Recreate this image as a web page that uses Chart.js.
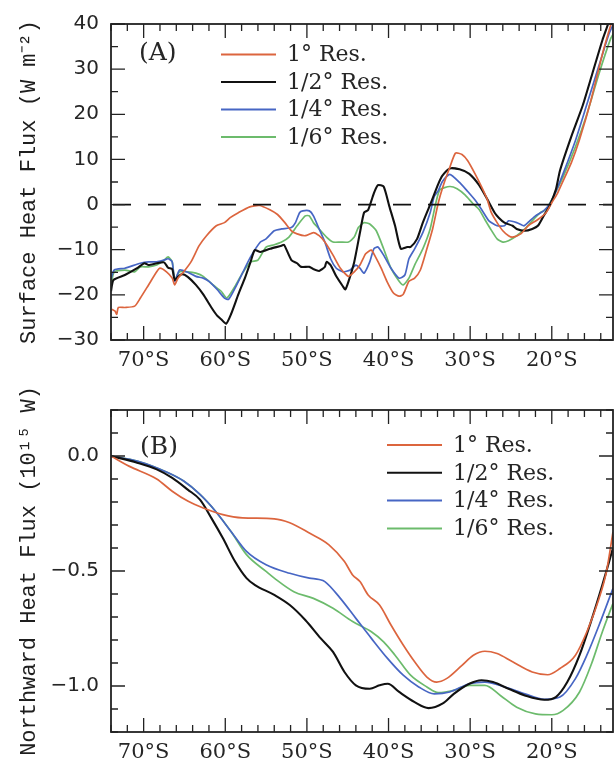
<!DOCTYPE html>
<html><head><meta charset="utf-8">
<script src="https://cdn.jsdelivr.net/npm/chart.js@4.4.1/dist/chart.umd.min.js"></script>
<style>
html,body{margin:0;padding:0;background:#fff;}
#wrap{position:relative;width:614px;height:763px;overflow:hidden;background:#fff;}
canvas{position:absolute;left:0;}
#cA{top:0;} #cB{top:380px;}
</style></head><body>
<div id="wrap"><canvas id="cA" width="614" height="380"></canvas><canvas id="cB" width="614" height="383"></canvas></div>
<script>
// ---------- data ----------
const seriesLabels = ['1° Res.', '1/2° Res.', '1/4° Res.', '1/6° Res.'];
const panelLabels = ['(A)', '(B)'];
const xTickLats = [-70, -60, -50, -40, -30, -20];
const yTicksA = [-30, -20, -10, 0, 10, 20, 30, 40];
const yTicksB = [-1.0, -0.5, 0.0];

// Panel A: surface heat flux (W m-2)
const lat1A = [-73.9,-73.5,-73.3,-73.1,-72.3,-71.1,-70.4,-69.4,-68.4,-68.0,-67.2,-66.5,-66.2,-65.8,-65.1,-64.2,-63.2,-62.3,-61.1,-60.1,-59.4,-58.4,-57.0,-55.8,-54.6,-53.6,-52.7,-51.9,-51.2,-50.2,-49.2,-48.5,-47.8,-46.8,-45.9,-44.9,-44.2,-43.5,-42.8,-42.1,-41.6,-40.9,-40.2,-39.4,-38.7,-38.2,-37.5,-36.8,-36.1,-35.3,-34.6,-33.9,-33.2,-32.5,-31.8,-31.0,-30.3,-29.4,-28.6,-27.9,-27.4,-26.7,-26.0,-25.3,-24.8,-23.8,-22.9,-21.7,-20.7,-20.0,-19.3,-19.0,-17.6,-16.6,-15.2,-13.8,-12.8,-12.5];
const flux1A = [-23.2,-23.6,-24.3,-22.8,-22.8,-22.5,-20.7,-17.8,-14.9,-14.1,-14.9,-16.3,-17.8,-16.3,-14.9,-12.7,-9.1,-6.9,-4.7,-4.0,-2.9,-1.8,-0.5,-0.2,-1.1,-2.2,-4.0,-5.8,-6.5,-6.9,-6.2,-6.9,-8.3,-11.2,-14.1,-15.9,-14.9,-13.4,-10.9,-10.1,-11.6,-14.1,-17.0,-19.6,-20.3,-19.9,-17.0,-16.3,-14.5,-9.8,-5.4,0.4,4.7,8.2,11.4,11.1,9.7,6.8,3.9,1.1,-1.8,-4.0,-5.8,-6.9,-7.2,-6.5,-4.7,-3.3,-1.8,0.4,2.5,3.7,9.3,14.4,23.1,33.3,39.6,41.0];

const lat2A = [-74.0,-73.7,-72.3,-70.8,-69.9,-69.4,-68.4,-67.5,-67.0,-66.5,-66.2,-65.8,-65.3,-64.6,-63.6,-62.7,-61.7,-61.0,-60.5,-59.9,-59.3,-58.4,-57.6,-56.9,-56.4,-55.7,-54.5,-53.1,-52.8,-51.9,-51.2,-50.7,-49.7,-49.2,-48.5,-47.8,-47.6,-47.1,-46.4,-45.6,-45.3,-44.9,-44.2,-43.5,-43.0,-42.5,-41.8,-41.3,-40.6,-39.9,-39.2,-38.5,-37.7,-37.3,-36.5,-35.8,-34.9,-33.9,-33.4,-32.5,-31.3,-30.1,-28.9,-28.0,-27.0,-26.5,-25.8,-24.8,-24.3,-23.3,-22.4,-21.7,-21.0,-20.3,-19.5,-19.0,-17.6,-16.2,-15.0,-13.8,-13.1,-12.5];
const flux2A = [-19.2,-16.7,-15.6,-14.1,-13.0,-13.4,-13.0,-12.8,-14.0,-14.3,-16.7,-16.0,-15.4,-16.0,-17.8,-19.9,-22.8,-24.6,-25.4,-26.4,-24.3,-19.9,-16.3,-12.7,-10.1,-10.5,-9.8,-9.1,-8.9,-12.3,-13.0,-13.8,-13.8,-14.3,-14.7,-13.8,-12.7,-13.4,-15.9,-18.1,-18.8,-17.0,-12.7,-6.2,-1.8,-1.2,2.5,4.3,4.0,-0.4,-4.7,-9.8,-9.4,-9.4,-7.6,-4.0,0.0,4.6,6.4,8.0,7.8,6.8,4.3,1.5,-1.8,-2.9,-4.0,-4.7,-5.4,-5.8,-5.4,-4.7,-2.5,-0.4,3.3,7.5,15.1,22.0,29.2,36.4,40.0,43.5];

const lat4A = [-74.0,-73.6,-72.3,-70.4,-69.4,-68.4,-67.5,-67.0,-66.5,-66.2,-65.6,-64.6,-63.6,-62.7,-62.0,-61.0,-60.1,-59.6,-58.8,-57.9,-56.9,-55.7,-55.0,-54.0,-53.1,-51.9,-51.4,-50.9,-50.5,-49.7,-49.2,-48.5,-47.8,-47.1,-46.4,-45.6,-44.7,-44.0,-43.5,-43.0,-42.3,-41.8,-41.3,-40.6,-39.7,-38.7,-38.0,-37.5,-36.8,-35.8,-34.9,-34.4,-33.9,-33.4,-32.5,-31.3,-30.4,-29.4,-28.6,-27.7,-26.7,-25.8,-25.3,-24.3,-23.4,-22.7,-22.0,-21.0,-20.3,-19.6,-18.6,-17.1,-15.7,-14.2,-13.0,-12.5];
const flux4A = [-16.5,-14.5,-14.1,-13.0,-12.7,-12.7,-12.3,-12.0,-12.7,-17.0,-14.5,-15.0,-15.9,-16.3,-17.0,-18.8,-20.7,-21.0,-18.5,-15.2,-11.6,-8.3,-7.6,-5.8,-5.4,-5.1,-4.0,-1.8,-1.4,-1.4,-2.5,-5.4,-8.3,-12.0,-14.1,-14.9,-14.5,-13.4,-14.1,-15.2,-12.7,-9.8,-9.4,-11.2,-14.1,-16.3,-15.6,-12.0,-9.8,-6.2,-1.8,1.8,3.1,5.1,6.7,4.9,3.1,1.0,-1.1,-3.6,-4.7,-4.7,-3.6,-4.0,-4.7,-3.6,-2.5,-1.4,0.0,2.5,6.9,14.2,22.2,30.9,37.8,39.8];

const lat6A = [-74.0,-73.6,-72.3,-71.1,-70.4,-69.4,-68.4,-67.5,-67.0,-66.5,-66.2,-65.6,-64.6,-63.6,-62.7,-61.5,-60.5,-59.8,-58.8,-57.9,-56.9,-56.0,-55.0,-54.0,-53.1,-52.2,-51.2,-50.2,-49.7,-49.2,-48.5,-47.6,-46.8,-45.9,-44.9,-44.2,-43.7,-43.0,-42.3,-41.5,-40.6,-39.7,-38.7,-38.2,-37.5,-36.8,-35.8,-34.9,-34.2,-33.7,-32.5,-31.6,-30.6,-29.7,-28.9,-28.2,-27.5,-26.7,-26.0,-25.3,-24.3,-23.3,-22.4,-21.4,-20.7,-20.0,-18.6,-17.1,-15.7,-14.2,-12.8,-12.4];
const flux6A = [-17.8,-14.9,-14.5,-14.9,-13.8,-13.8,-13.4,-12.3,-11.6,-12.7,-16.7,-14.9,-14.9,-15.2,-15.9,-17.8,-19.2,-20.7,-18.1,-15.2,-12.7,-12.3,-9.4,-8.9,-8.3,-7.2,-4.7,-2.5,-2.5,-4.0,-5.4,-7.2,-8.3,-8.3,-8.3,-7.2,-5.1,-4.0,-4.3,-5.8,-9.8,-14.1,-17.0,-17.8,-16.3,-13.4,-9.8,-5.4,0.4,3.3,4.0,3.5,2.1,0.3,-1.1,-3.3,-5.4,-7.6,-8.3,-8.0,-6.9,-5.4,-3.6,-1.8,-1.1,1.1,6.2,12.8,20.0,29.1,36.7,38.0];

// Panel B: northward heat flux (10^15 W)
const lat1B = [-74.0,-71.8,-68.4,-66.5,-64.6,-62.7,-60.3,-57.9,-54.0,-52.1,-49.7,-47.3,-45.4,-44.4,-43.5,-42.5,-41.1,-39.7,-38.2,-36.8,-35.3,-34.1,-32.9,-31.0,-29.6,-28.2,-26.7,-24.8,-22.4,-20.5,-19.0,-17.1,-15.7,-14.2,-13.3,-12.5];
const nhf1B = [0.0,-0.044,-0.10,-0.153,-0.196,-0.226,-0.255,-0.269,-0.273,-0.29,-0.335,-0.386,-0.459,-0.517,-0.546,-0.604,-0.648,-0.735,-0.822,-0.895,-0.961,-0.983,-0.968,-0.91,-0.866,-0.849,-0.859,-0.895,-0.939,-0.951,-0.924,-0.866,-0.764,-0.619,-0.502,-0.33];

const lat2B = [-74.0,-70.8,-68.4,-66.5,-64.6,-63.1,-61.7,-60.3,-58.8,-57.4,-56.4,-54.0,-52.1,-50.2,-48.3,-46.8,-45.4,-44.0,-42.3,-41.1,-40.1,-38.7,-36.8,-35.1,-33.4,-32.0,-30.1,-28.6,-27.2,-25.3,-23.3,-20.9,-19.5,-18.1,-16.6,-15.2,-13.8,-12.5];
const nhf2B = [0.0,-0.029,-0.058,-0.095,-0.146,-0.19,-0.27,-0.357,-0.459,-0.531,-0.56,-0.604,-0.648,-0.713,-0.793,-0.852,-0.939,-0.997,-1.012,-0.997,-0.99,-1.026,-1.07,-1.096,-1.077,-1.034,-0.99,-0.975,-0.983,-1.012,-1.041,-1.06,-1.048,-0.983,-0.866,-0.72,-0.56,-0.40];

const lat4B = [-74.0,-70.8,-67.0,-65.1,-63.1,-61.2,-59.3,-57.4,-55.0,-52.1,-49.7,-48.5,-47.8,-45.9,-44.0,-42.1,-40.1,-38.2,-36.3,-34.4,-32.5,-30.1,-28.2,-25.8,-23.3,-20.9,-19.0,-17.1,-15.7,-14.2,-12.5];
const nhf4B = [0.0,-0.022,-0.073,-0.109,-0.167,-0.24,-0.328,-0.415,-0.473,-0.51,-0.531,-0.537,-0.546,-0.619,-0.706,-0.793,-0.881,-0.953,-1.004,-1.034,-1.026,-0.99,-0.983,-1.004,-1.034,-1.058,-1.048,-0.968,-0.866,-0.735,-0.575];

const lat6B = [-74.0,-70.8,-67.0,-65.1,-63.1,-61.2,-59.3,-57.4,-55.0,-54.0,-51.6,-49.2,-46.8,-44.4,-42.1,-40.6,-39.2,-37.3,-35.3,-33.9,-32.0,-30.1,-28.2,-26.3,-24.3,-22.0,-20.0,-18.6,-16.6,-15.2,-13.8,-12.5];
const nhf6B = [0.0,-0.022,-0.073,-0.109,-0.167,-0.24,-0.328,-0.429,-0.502,-0.531,-0.59,-0.619,-0.662,-0.72,-0.764,-0.808,-0.866,-0.953,-1.004,-1.029,-1.019,-0.997,-0.997,-1.041,-1.092,-1.121,-1.125,-1.106,-1.026,-0.91,-0.764,-0.64];

// ---------- styling ----------
const seriesColors = ['#dc653e', '#111111', '#4766c4', '#6cbb6c'];
const seriesWidths = [1.7, 2.1, 1.7, 1.7];
const axisColor = '#222';
const textColor = '#262626';

const zip = (xs, ys) => xs.map((x, i) => ({x, y: ys[i]}));
function makeSets(pairs, smooth) {
  return pairs.map(([xs, ys], i) => ({
    label: seriesLabels[i],
    data: zip(xs, ys),
    borderColor: seriesColors[i],
    borderWidth: seriesWidths[i],
    pointRadius: 0,
    fill: false,
    tension: smooth ? 0.4 : 0.2,
    cubicInterpolationMode: smooth ? 'monotone' : 'default'
  }));
}

const frameTicks = {
  id: 'frameTicks',
  afterDatasetsDraw(chart, args, o) {
    const {ctx, chartArea: a, scales: {x, y}} = chart;
    ctx.save();
    if (o.zeroLine) {
      const py = y.getPixelForValue(0);
      ctx.strokeStyle = '#111'; ctx.lineWidth = 1.7;
      ctx.setLineDash([18, 17]);
      ctx.beginPath(); ctx.moveTo(a.left + 2, py); ctx.lineTo(a.right, py); ctx.stroke();
      ctx.setLineDash([]);
    }
    ctx.strokeStyle = axisColor;
    ctx.lineWidth = 1.3;
    ctx.beginPath();
    const vt = (v, len) => { const p = x.getPixelForValue(v); ctx.moveTo(p, a.bottom); ctx.lineTo(p, a.bottom - len); ctx.moveTo(p, a.top); ctx.lineTo(p, a.top + len); };
    const ht = (v, len) => { const p = y.getPixelForValue(v); ctx.moveTo(a.left, p); ctx.lineTo(a.left + len, p); ctx.moveTo(a.right, p); ctx.lineTo(a.right - len, p); };
    for (let v = -74; v <= x.max; v += 2) vt(v, (v % 10 === 0) ? 14 : 7);
    for (let i = Math.ceil(y.min / o.yMinor - 1e-6); i * o.yMinor <= y.max + 1e-9; i++) {
      const v = i * o.yMinor;
      const major = o.yMajor.some(m => Math.abs(m - v) < 1e-6);
      ht(v, major ? 14 : 7);
    }
    ctx.stroke();
    ctx.lineWidth = 1.8;
    ctx.strokeRect(a.left, a.top, a.right - a.left, a.bottom - a.top);
    // panel label
    ctx.fillStyle = textColor;
    ctx.font = '25px "DejaVu Serif"';
    ctx.textBaseline = 'middle'; ctx.textAlign = 'left';
    ctx.fillText(o.panel, o.panelX, o.panelY);
    // legend
    ctx.font = '22px "DejaVu Serif"';
    chart.data.datasets.forEach((d, i) => {
      const yy = o.legY + i * o.legDy;
      ctx.strokeStyle = d.borderColor; ctx.lineWidth = 2;
      ctx.beginPath(); ctx.moveTo(o.legX, yy); ctx.lineTo(o.legX + 55, yy); ctx.stroke();
      ctx.fillText(d.label, o.legX + 66, yy + 1);
    });
    ctx.restore();
  }
};

const minus = s => String(s).replace('-', '\u2212');

function makeChart(id, sets, cfg) {
  return new Chart(document.getElementById(id), {
    type: 'line',
    data: {datasets: sets},
    plugins: [frameTicks],
    options: {
      responsive: false, animation: false, devicePixelRatio: 1,
      layout: {padding: {top: cfg.top, right: 1, left: 0, bottom: 0}},
      plugins: {
        legend: {display: false}, tooltip: {enabled: false},
        frameTicks: cfg.ft
      },
      scales: {
        x: {
          type: 'linear', min: -74, max: -12.5,
          grid: {display: false, drawTicks: false}, border: {display: false},
          afterBuildTicks: s => { s.ticks = xTickLats.map(v => ({value: v})); },
          afterFit: s => { s.height = cfg.xh; },
          ticks: {padding: 8, color: textColor, autoSkip: false, maxRotation: 0,
                  font: {family: 'DejaVu Serif', size: 21},
                  callback: v => Math.abs(v) + '°S'}
        },
        y: {
          type: 'linear', min: cfg.ymin, max: cfg.ymax,
          grid: {display: false, drawTicks: false}, border: {display: false},
          afterBuildTicks: s => { s.ticks = cfg.yticks.map(v => ({value: v})); },
          afterFit: s => { s.width = 111; },
          ticks: {padding: 12, color: textColor, font: {family: 'DejaVu Sans', size: 20},
                  callback: cfg.yfmt},
          title: {display: true, text: cfg.ytitle, color: '#1e1e1e',
                  font: {family: 'Liberation Mono', size: 22}, padding: {top: 16, bottom: 0}}
        }
      }
    }
  });
}

makeChart('cA', makeSets([[lat1A, flux1A], [lat2A, flux2A], [lat4A, flux4A], [lat6A, flux6A]], false), {
  top: 18, xh: 40, ymin: -30, ymax: 40, yticks: yTicksA,
  yfmt: v => minus(v),
  ytitle: 'Surface Heat Flux (W m\u207B\u00B2)',
  ft: {zeroLine: true, yMinor: 5, yMajor: yTicksA, panel: panelLabels[0], panelX: 139, panelY: 53,
       legX: 221, legY: 54.5, legDy: 27.5}
});

makeChart('cB', makeSets([[lat1B, nhf1B], [lat2B, nhf2B], [lat4B, nhf4B], [lat6B, nhf6B]], true), {
  top: 30, xh: 31, ymin: -1.2, ymax: 0.2, yticks: yTicksB,
  yfmt: v => minus(Number(v).toFixed(1)),
  ytitle: 'Northward Heat Flux (10\u00B9\u2075 W)',
  ft: {zeroLine: false, yMinor: 0.1, yMajor: yTicksB, panel: panelLabels[1], panelX: 140, panelY: 67,
       legX: 387, legY: 65, legDy: 27.8}
});
</script>
</body></html>
